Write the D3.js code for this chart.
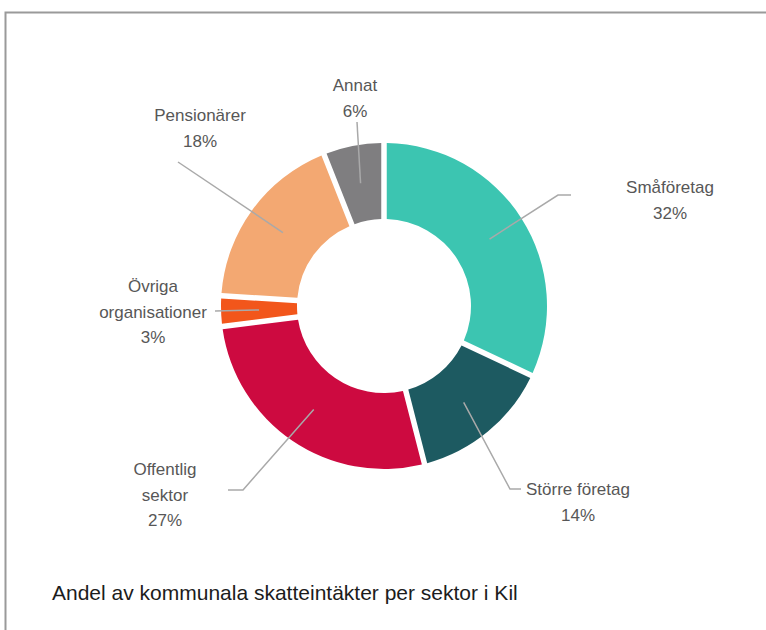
<!DOCTYPE html>
<html>
<head>
<meta charset="utf-8">
<script src="https://cdn.jsdelivr.net/npm/d3@7"></script>
<style>
  html, body { margin: 0; padding: 0; background: #fff; }
  svg { display: block; }
</style>
</head>
<body>
<div id="chart"></div>
<script>
// data
const categories = ["Småföretag", "Större företag", "Offentlig sektor", "Övriga organisationer", "Pensionärer", "Annat"];
const values = [32, 14, 27, 3, 18, 6];
const sliceColors = ["#3cc5b1", "#1d5a61", "#cd0a40", "#f2561b", "#f3a872", "#7f7e80"];
const labelLines = [["Småföretag", "32%"], ["Större företag", "14%"], ["Offentlig", "sektor", "27%"],
                    ["Övriga", "organisationer", "3%"], ["Pensionärer", "18%"], ["Annat", "6%"]];
const caption = "Andel av kommunala skatteintäkter per sektor i Kil";

// layout of labels: text centre, leader path points (after the slice centroid)
const labelLayout = [
  { x: 670, y: 193, path: [[558, 195], [571, 195]] },
  { x: 578, y: 495, path: [[510, 489], [521, 489]] },
  { x: 165, y: 475, path: [[243, 490], [228, 490]] },
  { x: 153, y: 292, path: [[215, 311]] },
  { x: 200, y: 121, path: [[178, 162]] },
  { x: 355, y: 91,  path: [[357, 122]] }
];

const width = 766, height = 630;
const cx = 384, cy = 306;
const outerR = 163, innerR = 87;
const lineH = 25.5;

const svg = d3.select("#chart").append("svg")
  .attr("width", width)
  .attr("height", height)
  .attr("viewBox", `0 0 ${width} ${height}`);

// frame
svg.append("path")
  .attr("d", `M5.5,${height} L5.5,12.5 L${width},12.5`)
  .attr("fill", "none")
  .attr("stroke", "#9a9a9a")
  .attr("stroke-width", 2);

const g = svg.append("g").attr("transform", `translate(${cx},${cy})`);

const pie = d3.pie().value(d => d).sort(null);
const arc = d3.arc()
  .innerRadius(innerR)
  .outerRadius(outerR)
  .padRadius(outerR)
  .padAngle(5.5 / outerR);
const mid = d3.arc().innerRadius((innerR + outerR) / 2).outerRadius((innerR + outerR) / 2);

const arcs = pie(values);

g.selectAll("path.slice")
  .data(arcs)
  .join("path")
  .attr("class", "slice")
  .attr("d", arc)
  .attr("fill", (d, i) => sliceColors[i]);

// leader lines
const line = d3.line();
arcs.forEach((d, i) => {
  const [mx, my] = mid.centroid(d);
  const pts = [[cx + mx, cy + my]].concat(labelLayout[i].path);
  svg.append("path")
    .attr("d", line(pts))
    .attr("fill", "none")
    .attr("stroke", "#a9a9a9")
    .attr("stroke-width", 1.5);
});

// labels
labelLines.forEach((lines, i) => {
  const t = svg.append("text")
    .attr("text-anchor", "middle")
    .attr("font-family", "Liberation Sans, Arial, sans-serif")
    .attr("font-size", 17)
    .attr("fill", "#575757");
  lines.forEach((s, k) => {
    t.append("tspan")
      .attr("x", labelLayout[i].x)
      .attr("y", labelLayout[i].y + k * lineH)
      .text(s);
  });
});

// caption
svg.append("text")
  .attr("x", 52)
  .attr("y", 600)
  .attr("font-family", "Liberation Sans, Arial, sans-serif")
  .attr("font-size", 21)
  .attr("fill", "#1c1c1c")
  .text(caption);
</script>
</body>
</html>
